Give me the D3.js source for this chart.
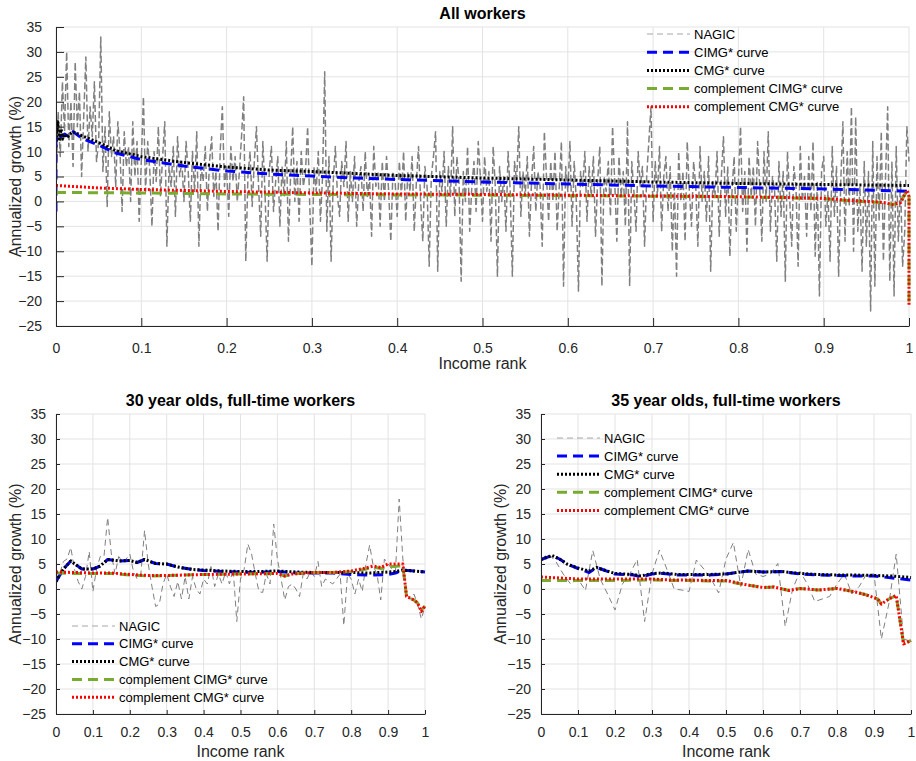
<!DOCTYPE html>
<html>
<head>
<meta charset="utf-8">
<script src="https://cdn.jsdelivr.net/npm/d3@7"></script>
<style>
  body { margin: 0; background: #fff; }
  svg { font-family: "Liberation Sans", Arial, Helvetica, sans-serif; }
</style>
</head>
<body>
<svg width="916" height="761"></svg>
<script>
// ---- datos ----
const serieNombres = ["NAGIC", "CIMG* curve", "CMG* curve", "complement CIMG* curve", "complement CMG* curve"];
const ticksX = [0, 0.1, 0.2, 0.3, 0.4, 0.5, 0.6, 0.7, 0.8, 0.9, 1];
const ticksY = [-25, -20, -15, -10, -5, 0, 5, 10, 15, 20, 25, 30, 35];

// panel 1: todos los trabajadores (NAGIC cada 0.0025, una fila = 0.05)
const nagicTodos = [
  2, 18, 9, 24, 14, 30, 11, 20, 7, 28, 15, 22, 5, 17, 29, 10, 19, 13, 24, 8,
  12, 33, 6, 15, -1, 18, 9, 13, 3, 16, 10, -2, 14, 7, 11, 0, 16, 5, 12, -4,
  8, 21, 2, 12, 6, -5, 10, 4, 15, 1, 9, 16, -9, 7, 3, 11, -3, 13, 5, 8,
  0, 12, 6, -4, 10, 2, 14, -9, 7, 4, 11, -2, 8, 13, 1, 6, -6, 10, 19, 3,
  7, -3, 11, 4, 9, 0, 6, 13, 21, -12, 5, 10, -1, 8, 15, 3, -7, 12, 2, -12,
  6, 11, -2, 4, 9, -5, 7, 1, 12, -8, 5, 15, 0, 8, -4, 10, 3, 6, 15, -1,
  -13, 7, 2, 10, -4, 5, 26, -6, 9, -12, 4, 11, 1, -3, 8, 3, 12, -4, 6, 0,
  9, -5, 4, 7, -2, 10, 1, 5, -7, 11, 3, 6, -5, 8, 0, 9, 2, -8, 6, 4,
  -3, 8, 1, 10, -4, 6, 2, 9, -6, 4, 11, 0, -8, 7, 3, -13, 5, 9, 14, -14,
  6, 2, 10, -5, 7, 1, 15, -3, 9, 4, -16, 6, 0, 11, -6, 3, 8, -2, 12, 5,
  -4, 9, 2, 6, -8, 11, 3, -15, 7, 0, 5, -6, 10, 2, -15, 8, 4, 15, -3, 6,
  1, 9, -7, 4, 11, -2, 6, 3, -9, 14, 5, -4, 8, 0, 10, -6, 3, 12, -17, 7,
  2, 12, -5, 8, 0, -18, 6, 3, 10, -4, 7, 1, 9, -7, 4, 11, -17, 5, 2, 8,
  -3, 15, 4, -8, 9, 1, 6, -5, 16, -17, 8, 2, -6, 10, 3, 7, -9, 5, 12, 19,
  -4, 8, 1, 11, -6, 5, 9, -2, 7, -10, 3, -15, 10, 0, 6, -8, 12, 2, -5, 8,
  3, -9, 11, 0, 6, -4, 9, -14, 4, 1, 10, -7, 5, 13, -3, 7, -11, 2, 9, -6,
  4, 15, -2, 6, -10, 9, 1, 7, -5, 12, 3, -8, 10, 0, 14, -6, 5, 2, -12, 8,
  -3, 6, -16, 10, 1, -9, 7, 3, -13, 11, 0, 5, -7, 9, -2, 12, -11, 4, -19, 6,
  9, -5, 2, -12, 11, -3, 7, -15, 4, 16, -8, 10, -1, 19, -10, 17, -6, 3, -14, 8,
  -9, 6, -22, 12, -17, 9, -4, 14, -12, 5, 19, -16, 8, -19, 11, -8, 4, -13, -6, 15,
  8
];
const rangoCimgTodos = [0, 0, 0.003, 0.006, 0.01, 0.015, 0.02, 0.03, 0.05, 0.07, 0.1, 0.15, 0.2, 0.25, 0.3, 0.35, 0.4, 0.5, 0.6, 0.7, 0.8, 0.9, 0.95, 0.99, 1];
const cimgTodos = [-2, 12, 13.5, 13, 13.5, 13, 14, 12.7, 11.3, 9.7, 8.4, 7.1, 6.1, 5.5, 5.1, 4.7, 4.4, 3.9, 3.5, 3.1, 2.8, 2.5, 2.3, 2.1, 2.0];
const rangoCmgTodos = [0, 0.002, 0.004, 0.006, 0.008, 0.01, 0.013, 0.016, 0.02, 0.03, 0.05, 0.07, 0.1, 0.15, 0.2, 0.25, 0.3, 0.35, 0.4, 0.5, 0.6, 0.7, 0.8, 0.9, 1];
const cmgTodos = [12, 16, 12.5, 14.5, 12.5, 13.5, 12.8, 13.5, 14, 13.2, 11.8, 10.2, 9.0, 7.8, 6.9, 6.3, 6.0, 5.6, 5.2, 4.7, 4.3, 3.9, 3.6, 3.4, 3.2];
const rangoCompTodos = [0, 0.05, 0.1, 0.2, 0.3, 0.4, 0.5, 0.6, 0.7, 0.8, 0.85, 0.9, 0.93, 0.95, 0.97, 0.98, 0.99, 0.995, 0.998, 1, 1];
const compCimgTodos = [1.8, 1.75, 1.7, 1.5, 1.4, 1.3, 1.25, 1.15, 1.05, 0.9, 0.75, 0.55, 0.15, -0.05, -0.25, -0.6, -0.35, 1.4, 2.1, 0.9, -21];
const compCmgTodos = [3.2, 2.7, 2.4, 2.0, 1.7, 1.5, 1.4, 1.25, 1.1, 0.95, 0.8, 0.6, 0.2, 0.0, -0.2, -0.6, -0.3, 1.5, 2.2, 1.0, -21];

// panel 2: 30 anios, tiempo completo (NAGIC cada 0.01)
const nagic30 = [
  1.5, 3, 5.5, 6, 8.3, 4, 1.5, 0, 2.5, 7.5,
  -0.5, 4, 6.5, 6.5, 14.3, 7, 3, 6.5, 5.5, 6,
  7, 3.5, 2, 3, 11.7, 5, 0.5, -3.5, -3, 1,
  3, 0.5, -1.5, 1.5, -2, 2.5, -2, 2.5, 0, -1,
  2, 1, 4.5, 0.5, 3, 1, 3.5, 1, 4, -6.5,
  2, 4, 9, 7, 3, -0.5, -0.7, 3, 1, 13,
  6, 2, -2.2, 0.5, 1, 0, -1.5, 3, 2, 3.5,
  2.5, 5.5, 0.5, 2, 1.5, 1, 2, 3, -7.3, 3,
  2, -1, 2, -0.5, 5, 8.8, 4.5, 3, -2.2, 6,
  5, 4, 3.5, 18, 6, -1, -2, -1, -3, -6,
  -3.5
];
const rangoCimg30 = [0, 0.02, 0.04, 0.07, 0.1, 0.12, 0.14, 0.17, 0.2, 0.22, 0.24, 0.27, 0.3, 0.33, 0.37, 0.4, 0.45, 0.5, 0.55, 0.6, 0.65, 0.7, 0.75, 0.8, 0.85, 0.9, 0.92, 0.94, 0.97, 1];
const cimg30 = [1.5, 4.0, 5.6, 4.0, 4.0, 4.6, 5.9, 5.6, 5.7, 5.3, 5.9, 5.1, 5.0, 4.4, 3.9, 3.7, 3.5, 3.4, 3.3, 3.5, 3.2, 3.2, 3.2, 2.9, 2.8, 2.9, 3.2, 3.8, 3.6, 3.4];
const cmg30 = [1.5, 4.0, 5.6, 4.0, 4.0, 4.6, 5.9, 5.6, 5.7, 5.3, 5.9, 5.1, 5.0, 4.4, 3.9, 3.8, 3.6, 3.5, 3.5, 3.6, 3.4, 3.3, 3.3, 3.3, 3.2, 3.4, 3.5, 3.8, 3.6, 3.4];
const rangoComp30 = [0, 0.05, 0.1, 0.15, 0.2, 0.25, 0.3, 0.4, 0.5, 0.6, 0.62, 0.64, 0.7, 0.75, 0.8, 0.84, 0.86, 0.88, 0.9, 0.93, 0.94, 0.95, 0.97, 0.98, 0.99, 1];
const compCimg30 = [3.2, 3.1, 3.1, 3.1, 2.8, 2.6, 2.7, 2.9, 3.0, 3.1, 2.6, 3.0, 3.3, 3.3, 3.5, 4.0, 4.4, 4.1, 4.4, 4.6, 4.6, -1.5, -2.2, -2.8, -4.2, -3.4];
const compCmg30 = [3.4, 3.3, 3.2, 3.2, 2.9, 2.7, 2.7, 2.9, 3.0, 3.1, 2.6, 3.0, 3.3, 3.3, 3.6, 4.2, 4.6, 4.3, 5.0, 5.0, 5.0, -1.5, -2.2, -2.8, -4.5, -3.4];

// panel 3: 35 anios, tiempo completo (NAGIC cada 0.02)
const nagic35 = [
  6, 7, 5.5, 3, 1, 2, -0.3, 7.7, 2, -1,
  -4.2, 1, 3, 5.9, -6.5, 3, 7.8, 4, 0, -0.2,
  -0.5, 5.8, 4, 2, -0.8, 6, 9.3, 0.5, 7.9, 3,
  2.5, 3, 5.1, -7.5, 0, 3.5, 1, -2.5, -2, -1.5,
  1, 3, -1, 0.5, 3, 3, -10, -3, 7, -10,
  -10.5
];
const rangoCimg35 = [0, 0.03, 0.05, 0.07, 0.1, 0.13, 0.15, 0.17, 0.2, 0.25, 0.27, 0.3, 0.33, 0.37, 0.4, 0.45, 0.5, 0.53, 0.56, 0.6, 0.65, 0.7, 0.75, 0.8, 0.85, 0.9, 0.95, 1];
const cimg35 = [5.9, 6.7, 6.0, 5.0, 4.1, 3.3, 4.3, 3.8, 3.0, 2.8, 2.4, 3.0, 3.1, 2.8, 2.8, 2.8, 3.0, 3.3, 3.6, 3.4, 3.5, 3.0, 2.8, 2.7, 2.6, 2.6, 2.2, 1.8];
const cmg35 = [5.9, 6.7, 6.0, 5.0, 4.2, 3.6, 4.3, 3.8, 3.1, 2.9, 2.6, 3.1, 3.2, 2.9, 2.9, 2.9, 3.0, 3.3, 3.6, 3.4, 3.5, 3.1, 2.9, 2.8, 2.8, 2.7, 2.6, 2.3];
const rangoComp35 = [0, 0.1, 0.2, 0.3, 0.35, 0.4, 0.45, 0.5, 0.52, 0.55, 0.6, 0.63, 0.67, 0.7, 0.75, 0.8, 0.85, 0.88, 0.91, 0.92, 0.94, 0.96, 0.98, 1];
const compCimg35 = [1.7, 1.7, 1.7, 1.8, 1.7, 1.7, 1.6, 1.6, 1.3, 0.9, 0.3, 0.4, -0.3, 0.1, -0.2, 0.1, -0.6, -1.2, -2.0, -3.0, -2.0, -1.3, -11, -10.3];
const compCmg35 = [2.4, 2.0, 2.0, 2.0, 1.8, 1.8, 1.7, 1.7, 1.4, 0.9, 0.3, 0.4, -0.3, 0.1, -0.2, 0.1, -0.6, -1.2, -2.0, -3.0, -2.0, -1.3, -11, -10.3];

// ---- estilos de las series ----
const estilos = [
  { color: "#808080", ancho: 1, guion: "6,4" },
  { color: "#0000ff", ancho: 3, guion: "10,6" },
  { color: "#000000", ancho: 3, guion: "2,2" },
  { color: "#77ac30", ancho: 3, guion: "10,6" },
  { color: "#ff0000", ancho: 3, guion: "2,2" }
];

const svg = d3.select("svg");

function rangos(valores) {
  // rangos de ingreso equiespaciados entre 0 y 1
  return valores.map((d, i) => i / (valores.length - 1));
}

function dibujarPanel(cfg, idx) {
  const x = d3.scaleLinear().domain([0, 1]).range([cfg.izq, cfg.der]);
  const y = d3.scaleLinear().domain([-25, 35]).range([cfg.abajo, cfg.arriba]);
  const g = svg.append("g");

  // rejilla
  g.selectAll(".gx").data(ticksX).enter().append("line")
    .attr("x1", d => x(d)).attr("x2", d => x(d))
    .attr("y1", cfg.arriba).attr("y2", cfg.abajo)
    .attr("stroke", "#e3e3e3").attr("stroke-width", 1);
  g.selectAll(".gy").data(ticksY).enter().append("line")
    .attr("x1", cfg.izq).attr("x2", cfg.der)
    .attr("y1", d => y(d)).attr("y2", d => y(d))
    .attr("stroke", "#e3e3e3").attr("stroke-width", 1);

  // series
  const clipId = "clip" + idx;
  svg.append("defs").append("clipPath").attr("id", clipId)
    .append("rect").attr("x", cfg.izq).attr("y", cfg.arriba - 2)
    .attr("width", cfg.der - cfg.izq + 3).attr("height", cfg.abajo - cfg.arriba + 2);

  const linea = d3.line().x(d => x(d[0])).y(d => y(d[1]));
  const capa = g.append("g").attr("clip-path", `url(#${clipId})`);
  cfg.series.forEach((s, k) => {
    const est = estilos[k];
    const puntos = s.valores.map((v, i) => [s.rangos[i], v]);
    const p = capa.append("path")
      .attr("d", linea(puntos))
      .attr("fill", "none")
      .attr("stroke", est.color)
      .attr("stroke-width", est.ancho)
      .attr("stroke-dasharray", est.guion)
      .attr("stroke-linejoin", "round");
    // la serie ruidosa del panel grande: trazo algo mas grueso para que se vea como banda
    if (k === 0 && cfg.denso) p.attr("stroke-width", 1.5).attr("stroke-dasharray", "7,3");
  });

  // ejes (ticks hacia dentro como en MATLAB)
  const ejeX = d3.axisBottom(x).tickValues(ticksX).tickSizeInner(-cfg.tick).tickSizeOuter(0)
    .tickPadding(cfg.tick + 9).tickFormat(d3.format("~g"));
  const ejeY = d3.axisLeft(y).tickValues(ticksY).tickSizeInner(-cfg.tick).tickSizeOuter(0)
    .tickPadding(cfg.tick + 6);
  const gx = g.append("g").attr("transform", `translate(0,${cfg.abajo})`).call(ejeX);
  const gy = g.append("g").attr("transform", `translate(${cfg.izq},0)`).call(ejeY);
  [gx, gy].forEach(e => {
    e.selectAll("path, line").attr("stroke", "#262626").attr("stroke-width", 1);
    e.selectAll("text").attr("fill", "#262626").style("font-size", "14px");
  });
  gx.selectAll("text").attr("dy", "0.71em");

  // textos
  g.append("text").attr("x", (cfg.izq + cfg.der) / 2).attr("y", cfg.arriba - 8)
    .attr("text-anchor", "middle").style("font-size", "16px").style("font-weight", "bold")
    .attr("fill", "#000").text(cfg.titulo);
  g.append("text").attr("x", (cfg.izq + cfg.der) / 2).attr("y", cfg.abajo + 43)
    .attr("text-anchor", "middle").style("font-size", "16px").attr("fill", "#262626")
    .text("Income rank");
  g.append("text")
    .attr("transform", `translate(${cfg.izq - 41},${(cfg.arriba + cfg.abajo) / 2}) rotate(-90)`)
    .attr("text-anchor", "middle").attr("dominant-baseline", "central")
    .style("font-size", "16px").attr("fill", "#262626")
    .text("Annualized growth (%)");

  // leyenda sin caja
  const ley = g.append("g").attr("transform", `translate(${cfg.leyX},${cfg.leyY})`);
  serieNombres.forEach((nombre, k) => {
    const est = estilos[k];
    const fila = ley.append("g").attr("transform", `translate(0,${k * cfg.leyPaso})`);
    fila.append("line").attr("x1", 0).attr("x2", 43).attr("y1", 0).attr("y2", 0)
      .attr("stroke", k === 0 ? "#a6a6a6" : est.color)
      .attr("stroke-width", est.ancho).attr("stroke-dasharray", est.guion);
    fila.append("text").attr("x", 47).attr("y", 0).attr("dominant-baseline", "central")
      .style("font-size", "13px").attr("fill", "#000").text(nombre);
  });
}

const paneles = [
  {
    titulo: "All workers", izq: 56, der: 909, arriba: 27, abajo: 326, tick: 8, denso: true,
    leyX: 647, leyY: 34, leyPaso: 18.2,
    series: [
      { rangos: rangos(nagicTodos), valores: nagicTodos },
      { rangos: rangoCimgTodos, valores: cimgTodos },
      { rangos: rangoCmgTodos, valores: cmgTodos },
      { rangos: rangoCompTodos, valores: compCimgTodos },
      { rangos: rangoCompTodos, valores: compCmgTodos }
    ]
  },
  {
    titulo: "30 year olds, full-time workers", izq: 56, der: 425, arriba: 414, abajo: 714, tick: 4,
    leyX: 72, leyY: 626, leyPaso: 17.8,
    series: [
      { rangos: rangos(nagic30), valores: nagic30 },
      { rangos: rangoCimg30, valores: cimg30 },
      { rangos: rangoCimg30, valores: cmg30 },
      { rangos: rangoComp30, valores: compCimg30 },
      { rangos: rangoComp30, valores: compCmg30 }
    ]
  },
  {
    titulo: "35 year olds, full-time workers", izq: 541, der: 911, arriba: 414, abajo: 714, tick: 4,
    leyX: 557, leyY: 438, leyPaso: 18.1,
    series: [
      { rangos: rangos(nagic35), valores: nagic35 },
      { rangos: rangoCimg35, valores: cimg35 },
      { rangos: rangoCimg35, valores: cmg35 },
      { rangos: rangoComp35, valores: compCimg35 },
      { rangos: rangoComp35, valores: compCmg35 }
    ]
  }
];

paneles.forEach((p, i) => dibujarPanel(p, i));
</script>
</body>
</html>
